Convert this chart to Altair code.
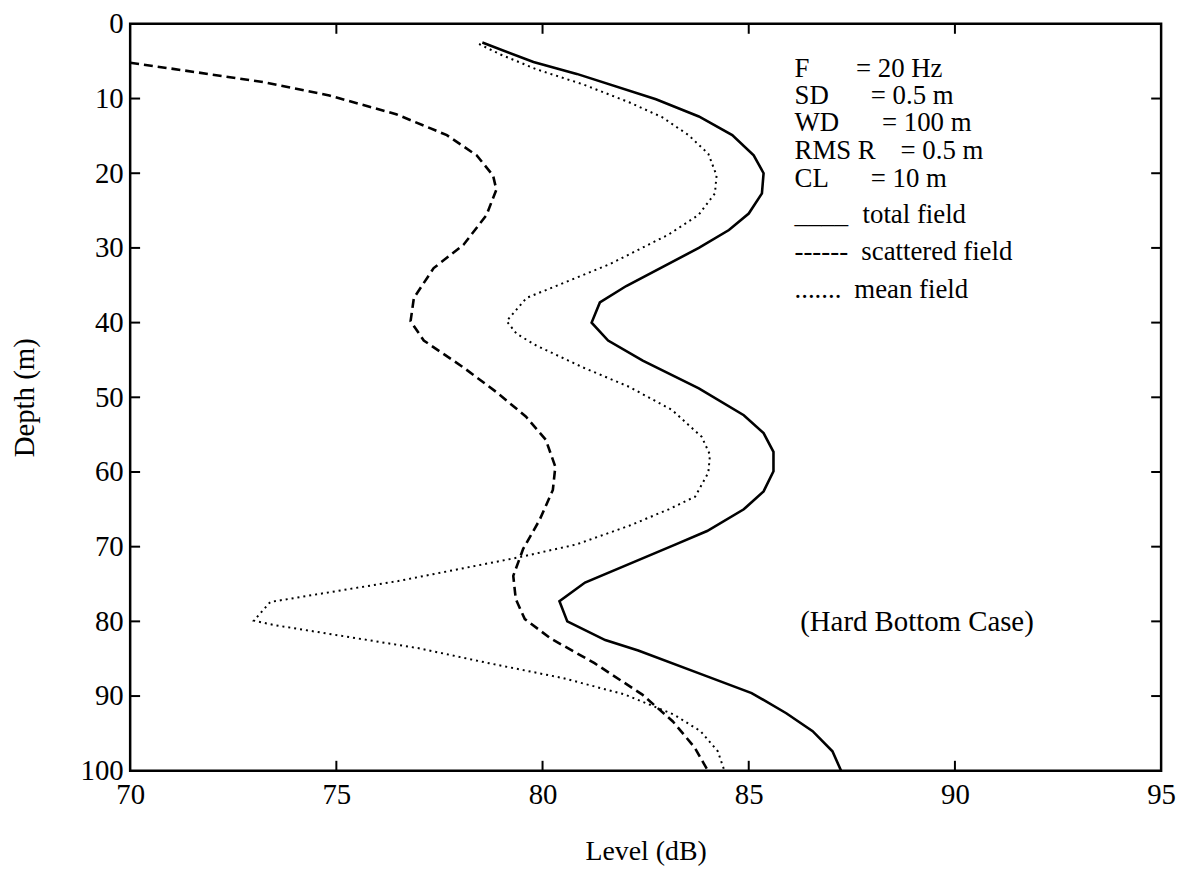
import altair as alt
import pandas as pd

# ---------------- data ----------------
total_depth = [2.5, 5.1, 6.7, 10.1, 12.4, 14.9, 17.6, 20.0, 22.7, 25.4, 27.6, 30.0, 35.1, 37.3,
               40.0, 42.4, 45.1, 48.8, 52.4, 54.8, 57.3, 59.9, 62.6, 65.0, 67.9, 69.7, 74.8,
               77.3, 80.0, 82.5, 83.9, 87.2, 89.6, 92.3, 94.7, 97.4, 100.0]
total_level = [78.54, 79.78, 80.83, 82.75, 83.79, 84.6, 85.12, 85.36, 85.32, 85.0, 84.52, 83.79,
               82.03, 81.39, 81.19, 81.59, 82.43, 83.79, 84.88, 85.36, 85.6, 85.6, 85.36, 84.88,
               83.99, 83.23, 81.03, 80.41, 80.6, 81.52, 82.32, 83.91, 85.07, 85.91, 86.55, 87.03,
               87.24]

scat_depth = [5.2, 6.5, 7.8, 9.6, 12.1, 14.9, 17.6, 20.3, 22.2, 25.6, 29.6, 32.7, 36.7, 39.8,
              42.4, 46.0, 49.3, 52.6, 55.7, 59.3, 62.4, 66.4, 70.3, 73.9, 77.0, 79.7, 82.3, 85.6,
              89.8, 93.4, 96.9, 100.0]
scat_level = [70.0, 71.63, 73.23, 74.83, 76.45, 77.68, 78.4, 78.8, 78.88, 78.64, 78.08, 77.36,
              76.88, 76.8, 77.12, 78.08, 78.88, 79.6, 80.08, 80.31, 80.25, 79.93, 79.53, 79.29,
              79.35, 79.57, 80.2, 81.26, 82.42, 83.16, 83.69, 84.01]

mean_depth = [2.7, 4.1, 6.1, 8.1, 10.5, 12.5, 14.9, 17.4, 20.3, 22.7, 25.6, 28.2, 32.2, 36.7,
              39.8, 41.5, 43.1, 46.0, 48.6, 51.7, 55.3, 57.7, 60.1, 63.3, 65.0, 67.2, 69.7, 71.4,
              74.6, 77.4, 79.9, 80.5, 83.6, 85.6, 87.6, 89.8, 92.5, 94.7, 97.4, 100.0]
mean_level = [78.46, 78.98, 79.86, 80.98, 82.1, 82.9, 83.54, 84.02, 84.22, 84.18, 83.78, 83.06,
              81.62, 79.61, 79.13, 79.37, 79.86, 80.98, 82.1, 83.14, 83.86, 84.06, 84.02, 83.7,
              83.06, 82.1, 80.82, 79.45, 76.5, 73.4, 73.0, 73.5, 77.0, 78.7, 80.5, 82.0, 83.19,
              83.83, 84.25, 84.41]

x_labels = [70, 75, 80, 85, 90, 95]
y_labels = [0, 10, 20, 30, 40, 50, 60, 70, 80, 90, 100]
x_ticks = [75, 80, 85, 90]
y_ticks = [10, 20, 30, 40, 50, 60, 70, 80, 90]

param_names = ["F", "SD", "WD", "RMS R", "CL"]
param_values = ["= 20 Hz", "= 0.5 m", "= 100 m", "= 0.5 m", "= 10 m"]
param_depth = [7.05, 10.73, 14.36, 18.05, 21.8]
param_value_level = [87.60, 87.96, 88.23, 88.68, 87.96]
key_symbols = ["____", "------", "......."]
key_names = ["total field", "scattered field", "mean field"]
key_depth = [26.7, 31.56, 36.66]
key_name_level = [87.76, 87.73, 87.56]
text_level = 86.11
case_text = "(Hard Bottom Case)"
case_level = 89.08
case_depth = 81.3

# ---------------- chart ----------------
FONT = "Liberation Serif"
FS = 29
FS_TXT = 27
W, H = 1038, 752

x_scale = alt.Scale(domain=[70, 95], nice=False, zero=False)
y_scale = alt.Scale(domain=[0, 100], nice=False, zero=False, reverse=True)

x_axis = alt.Axis(title="Level (dB)", values=x_labels, ticks=False, tickSize=0, domain=False,
                  grid=False, labelFlush=False, labelOverlap=False, format="d",
                  labelFont=FONT, labelFontSize=FS, labelColor="black", labelPadding=10,
                  titleFont=FONT, titleFontSize=28, titleFontWeight="normal",
                  titleColor="black", titlePadding=28)
y_axis = alt.Axis(title="Depth (m)", values=y_labels, ticks=False, tickSize=0, domain=False,
                  grid=False, labelFlush=False, labelOverlap=False, format="d",
                  labelFont=FONT, labelFontSize=FS, labelColor="black", labelPadding=7,
                  titleFont=FONT, titleFontSize=FS, titleFontWeight="normal",
                  titleColor="black", titlePadding=41)

X = alt.X("level:Q", scale=x_scale, axis=x_axis)
Y = alt.Y("depth:Q", scale=y_scale, axis=y_axis)


def line_layer(depths, levels, width, dash=None):
    df = pd.DataFrame({"level": levels, "depth": depths, "idx": list(range(len(depths)))})
    kw = dict(color="black", strokeWidth=width, clip=True)
    if dash is not None:
        kw["strokeDash"] = dash
    return alt.Chart(df).mark_line(**kw).encode(x=X, y=Y, order="idx:Q")


solid = line_layer(total_depth, total_level, 2.6)
dashed = line_layer(scat_depth, scat_level, 2.6, [9, 5])
dotted = line_layer(mean_depth, mean_level, 2.0, [2, 4])

xt = pd.DataFrame({"level": x_ticks})
yt = pd.DataFrame({"depth": y_ticks})
tick_top = alt.Chart(xt).mark_rule(color="black", strokeWidth=2).encode(
    x=X, y=alt.value(0), y2=alt.value(10))
tick_bottom = alt.Chart(xt).mark_rule(color="black", strokeWidth=2).encode(
    x=X, y=alt.value(H - 10), y2=alt.value(H))
tick_left = alt.Chart(yt).mark_rule(color="black", strokeWidth=2).encode(
    y=Y, x=alt.value(0), x2=alt.value(10))
tick_right = alt.Chart(yt).mark_rule(color="black", strokeWidth=2).encode(
    y=Y, x=alt.value(W - 10), x2=alt.value(W))

texts = []
for n, d in zip(param_names, param_depth):
    texts.append({"level": text_level, "depth": d, "label": n})
for v, lv, d in zip(param_values, param_value_level, param_depth):
    texts.append({"level": lv, "depth": d, "label": v})
for s, d in zip(key_symbols, key_depth):
    texts.append({"level": text_level, "depth": d, "label": s})
for n, lv, d in zip(key_names, key_name_level, key_depth):
    texts.append({"level": lv, "depth": d, "label": n})
tdf = pd.DataFrame(texts)

text_layer = alt.Chart(tdf).mark_text(
    align="left", baseline="alphabetic", font=FONT, fontSize=FS_TXT, color="black"
).encode(x=X, y=Y, text="label:N")

case_df = pd.DataFrame({"level": [case_level], "depth": [case_depth], "label": [case_text]})
case_layer = alt.Chart(case_df).mark_text(
    align="center", baseline="alphabetic", font=FONT, fontSize=FS, color="black"
).encode(x=X, y=Y, text="label:N")

chart = alt.layer(
    solid, dashed, dotted, tick_top, tick_bottom, tick_left, tick_right, text_layer, case_layer
).properties(
    width=W, height=H,
    padding={"left": 123, "top": 13, "right": 17, "bottom": 100},
    autosize=alt.AutoSizeParams(type="none"),
    background="white",
).configure_view(
    stroke="black", strokeWidth=2.5
)

chart.save("out.html", embed_options={"renderer": "svg", "actions": False})
